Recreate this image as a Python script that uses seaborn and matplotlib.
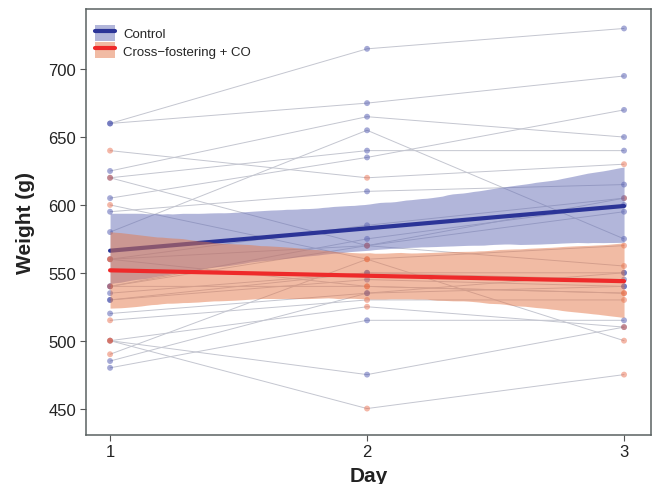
import matplotlib
matplotlib.use("Agg")
import matplotlib.pyplot as plt
from matplotlib.patches import Patch
from matplotlib.lines import Line2D
import seaborn as sns
import pandas as pd

# weights per subject (g); same index = same animal
days = [1, 2, 3]
groups = ["Control", "Cross\u2212fostering + CO"]

control_day1 = [660, 660, 625, 620, 605, 580, 595, 560, 540, 540, 535, 530, 530, 520, 500, 485, 480]
control_day2 = [715, 675, 665, 640, 635, 655, 610, 585, 575, 570, 550, 550, 545, 535, 475, 535, 515]
control_day3 = [730, 695, 650, 640, 670, 575, 615, 605, 600, 595, 550, 545, 540, 550, 510, 540, 515]

cross_day1 = [640, 620, 600, 560, 560, 540, 515, 500, 500, 490]
cross_day2 = [620, 570, 560, 570, 540, 540, 530, 525, 450, 560]
cross_day3 = [630, 605, 570, 555, 535, 535, 530, 510, 475, 500]

point_colors = {groups[0]: "#3a44a6", groups[1]: "#e8603c"}
line_colors = {groups[0]: "#2b3497", groups[1]: "#ee2a2a"}
band_colors = {groups[0]: "#676fb7", groups[1]: "#e5794b"}

rows = []
for g, series in [(groups[0], [control_day1, control_day2, control_day3]),
                  (groups[1], [cross_day1, cross_day2, cross_day3])]:
    for i in range(len(series[0])):
        for d, vals in zip(days, series):
            rows.append({"Subject": f"{g}_{i}", "Group": g, "Day": d, "Weight": vals[i]})
df = pd.DataFrame(rows)

sns.set_style("white")
plt.rcParams["font.family"] = ["Liberation Sans", "DejaVu Sans"]

fig = plt.figure(figsize=(6.52, 4.85), dpi=100)
ax = fig.add_axes([0.132, 0.101, 0.8665, 0.878])

# individual trajectories
sns.lineplot(data=df, x="Day", y="Weight", units="Subject", estimator=None,
             color="#c4c6d0", linewidth=0.7, legend=False, ax=ax, zorder=1)
sns.scatterplot(data=df, x="Day", y="Weight", hue="Group", palette=point_colors,
                alpha=0.45, s=18, edgecolor="none", legend=False, ax=ax, zorder=2)

# linear fits with 95% bands
z = 3
for g in groups:
    sub = df[df["Group"] == g]
    sns.regplot(data=sub, x="Day", y="Weight", scatter=False, ci=95, seed=3,
                color=line_colors[g], line_kws={"linewidth": 3, "zorder": z + 1}, ax=ax)
    band = ax.collections[-1]
    band.set_facecolor(band_colors[g])
    band.set_alpha(0.5)
    band.set_linewidth(0)
    band.set_zorder(z)
    z += 2

ax.set_xlim(0.9066, 3.105)
ax.set_ylim(430.5, 744.2)
ax.set_xticks(days)
ax.set_yticks([450, 500, 550, 600, 650, 700])
ax.tick_params(axis="both", direction="out", length=4, width=0.8, color="#555555",
               labelsize=12, labelcolor="#222222", pad=3, left=True, bottom=True)
ax.tick_params(axis="x", pad=2.5)
for s in ax.spines.values():
    s.set_color("#5a6262")
    s.set_linewidth(1.1)

ax.set_xlabel("Day", fontsize=15, fontweight="bold", color="#222222", labelpad=5)
ax.set_ylabel("Weight (g)", fontsize=15, fontweight="bold", color="#222222", labelpad=10)

handles = [(Patch(facecolor=band_colors[g], alpha=0.5, edgecolor="none"),
            Line2D([], [], color=line_colors[g], linewidth=3)) for g in groups]
ax.legend(handles, groups, loc="upper left", frameon=False, fontsize=9.5,
          handlelength=1.5, handleheight=1.5, borderaxespad=0.3, labelspacing=0.1,
          handletextpad=0.6, bbox_to_anchor=(0.0, 0.985))

fig.savefig("out.png", dpi=100)
